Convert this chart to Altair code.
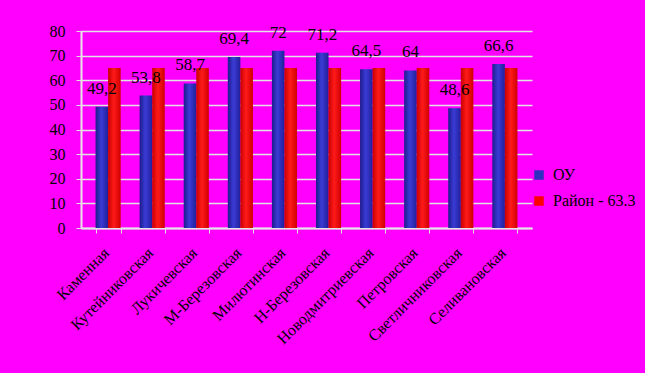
import altair as alt
import pandas as pd
import jinja2

categories = ["Каменная", "Кутейниковская", "Лукичевская", "М-Березовская", "Милютинская",
              "Н-Березовская", "Новодмитриевская", "Петровская", "Светличниковская", "Селивановская"]
ou_values = [49.2, 53.8, 58.7, 69.4, 72, 71.2, 64.5, 64, 48.6, 66.6]
rayon_values = [65, 65, 65, 65, 65, 65, 65, 65, 65, 65]
series_names = ["ОУ", "Район - 63.3"]
y_ticks = [0, 10, 20, 30, 40, 50, 60, 70, 80]

rows = []
for c, a, b in zip(categories, ou_values, rayon_values):
    rows.append({"cat": c, "series": series_names[0], "value": a,
                 "label": (f"{a:g}").replace(".", ",")})
    rows.append({"cat": c, "series": series_names[1], "value": b, "label": ""})
df = pd.DataFrame(rows)

FONT = "Liberation Serif"

blue_grad = {"gradient": "linear", "x1": 0, "x2": 1, "y1": 0, "y2": 0,
             "stops": [{"offset": 0, "color": "#1c1c8c"},
                       {"offset": 0.45, "color": "#3b3bd6"},
                       {"offset": 1, "color": "#20209a"}]}
red_grad = {"gradient": "linear", "x1": 0, "x2": 1, "y1": 0, "y2": 0,
            "stops": [{"offset": 0, "color": "#c80000"},
                      {"offset": 0.45, "color": "#ff1a1a"},
                      {"offset": 1, "color": "#d00000"}]}

x_axis = alt.Axis(labelAngle=-45, labelAlign="right", labelBaseline="middle",
                  labelFont=FONT, labelFontSize=16, labelColor="black",
                  labelPadding=17, labelOffset=-2, labelOverlap=False,
                  tickBand="extent", tickColor="#e0e0e0", tickSize=5,
                  domainColor="#e6e6e6", domainWidth=2, grid=False)
x_scale = alt.Scale(paddingInner=0.43, paddingOuter=0.33)
y_axis = alt.Axis(values=y_ticks, labelFont=FONT, labelFontSize=16,
                  labelColor="black", labelPadding=11, labelOverlap=False,
                  tickColor="#e0e0e0", tickSize=5,
                  domainColor="#e6e6e6", domainWidth=2,
                  grid=True, gridColor="#e2e2e2", gridWidth=1.5)
y_scale = alt.Scale(domain=[0, 80])

x_enc = alt.X("cat:N", sort=categories, title=None, scale=x_scale, axis=x_axis)
y_enc = alt.Y("value:Q", scale=y_scale, title=None, axis=y_axis)
xoff = alt.XOffset("series:N", scale=alt.Scale(domain=series_names))

base = alt.Chart(df)

bars = base.mark_bar(stroke=None).encode(
    x=x_enc,
    xOffset=xoff,
    y=y_enc,
    color=alt.condition(f"datum.series == '{series_names[0]}'",
                        alt.value(blue_grad), alt.value(red_grad)),
)

legend_layer = base.mark_point(shape="square", filled=True, opacity=0).encode(
    x=x_enc,
    y=y_enc,
    fill=alt.Fill("series:N",
                  scale=alt.Scale(domain=series_names, range=["#2f2fc0", "#ff0000"]),
                  legend=alt.Legend(title=None, orient="none", legendX=450, legendY=136,
                                    symbolType="square", symbolSize=90, symbolOpacity=1,
                                    symbolStrokeWidth=0,
                                    labelFont=FONT, labelFontSize=16, labelColor="black",
                                    labelOffset=6, rowPadding=10, padding=0)),
)

labels = base.transform_filter(f"datum.series == '{series_names[0]}'").mark_text(
    font=FONT, fontSize=17, color="black", baseline="bottom", dy=-9
).encode(
    x=x_enc,
    xOffset=xoff,
    y=y_enc,
    text="label:N",
)

chart = alt.layer(bars, legend_layer, labels).properties(
    width=451, height=197,
    background="#FF00FF",
    autosize=alt.AutoSizeParams(type="none"),
    padding={"left": 73, "top": 23, "right": 105, "bottom": 137},
).configure_view(stroke=None)

TEMPLATE_SRC = """<!DOCTYPE html>
<html>
<head>
<style>html, body { background: #FF00FF; } .error { color: red; }</style>
<script type="text/javascript" src="{{ base_url }}/vega@{{ vega_version }}"></script>
<script type="text/javascript" src="{{ base_url }}/vega-lite@{{ vegalite_version }}"></script>
<script type="text/javascript" src="{{ base_url }}/vega-embed@{{ vegaembed_version }}"></script>
</head>
<body>
<div id="{{ output_div }}"></div>
<script>
  (function(vegaEmbed) {
    var spec = {{ spec }};
    var embedOpt = {{ embed_options }};
    vegaEmbed("#{{ output_div }}", spec, embedOpt).catch(console.error);
  })(vegaEmbed);
</script>
</body>
</html>
"""
tmpl = jinja2.Template(TEMPLATE_SRC)
try:
    chart.save("out.html", embed_options={"renderer": "svg", "actions": False}, template=tmpl)
except Exception:
    chart.save("out.html", embed_options={"renderer": "svg", "actions": False})
